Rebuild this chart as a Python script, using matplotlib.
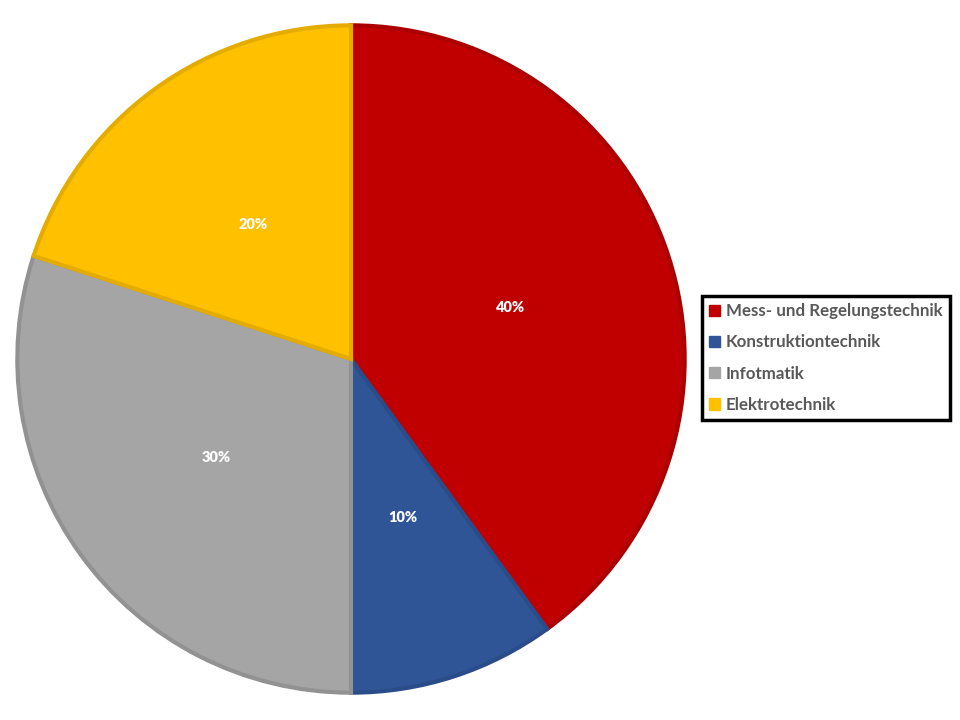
import matplotlib
matplotlib.use("Agg")
import matplotlib.pyplot as plt
from matplotlib.patches import Patch

# data
labels = ["Mess- und Regelungstechnik", "Konstruktiontechnik", "Infotmatik", "Elektrotechnik"]
shares = [40, 10, 30, 20]
colors = ["#C00000", "#2F5597", "#A5A5A5", "#FFC000"]
edge_colors = ["#AA0000", "#2A4C88", "#929292", "#E5AC00"]

fig = plt.figure(figsize=(9.6, 7.2), dpi=100)
ax = fig.add_axes([14 / 960, (720 - 359 - 337) / 720, 674 / 960, 674 / 720])

wedges, texts, autotexts = ax.pie(
    shares, colors=colors, startangle=90, counterclock=False,
    autopct="%1.0f%%", pctdistance=0.5, radius=1.0,
    wedgeprops=dict(linewidth=3),
    textprops=dict(color="white", fontsize=10.5, fontweight="heavy", family=["Lato", "DejaVu Sans"]),
)
for w, ec in zip(wedges, edge_colors):
    w.set_edgecolor(ec)
ax.set_xlim(-1.01, 1.01)
ax.set_ylim(-1.01, 1.01)
ax.set_aspect("equal")

handles = [Patch(facecolor=c, edgecolor=c) for c in colors]
leg = fig.legend(handles, labels, loc="center left", bbox_to_anchor=(702 / 960, 1 - 358 / 720),
                 frameon=True, fancybox=False, framealpha=1, handlelength=0.65, handleheight=0.65,
                 handletextpad=0.35, labelspacing=0.9, borderpad=0.42, borderaxespad=0,
                 prop=dict(family=["Lato", "DejaVu Sans"], weight="bold", size=12.2))
leg.get_frame().set_edgecolor("black")
leg.get_frame().set_linewidth(2.5)
for t in leg.get_texts():
    t.set_color("#595959")

fig.savefig("out.png", dpi=100)
